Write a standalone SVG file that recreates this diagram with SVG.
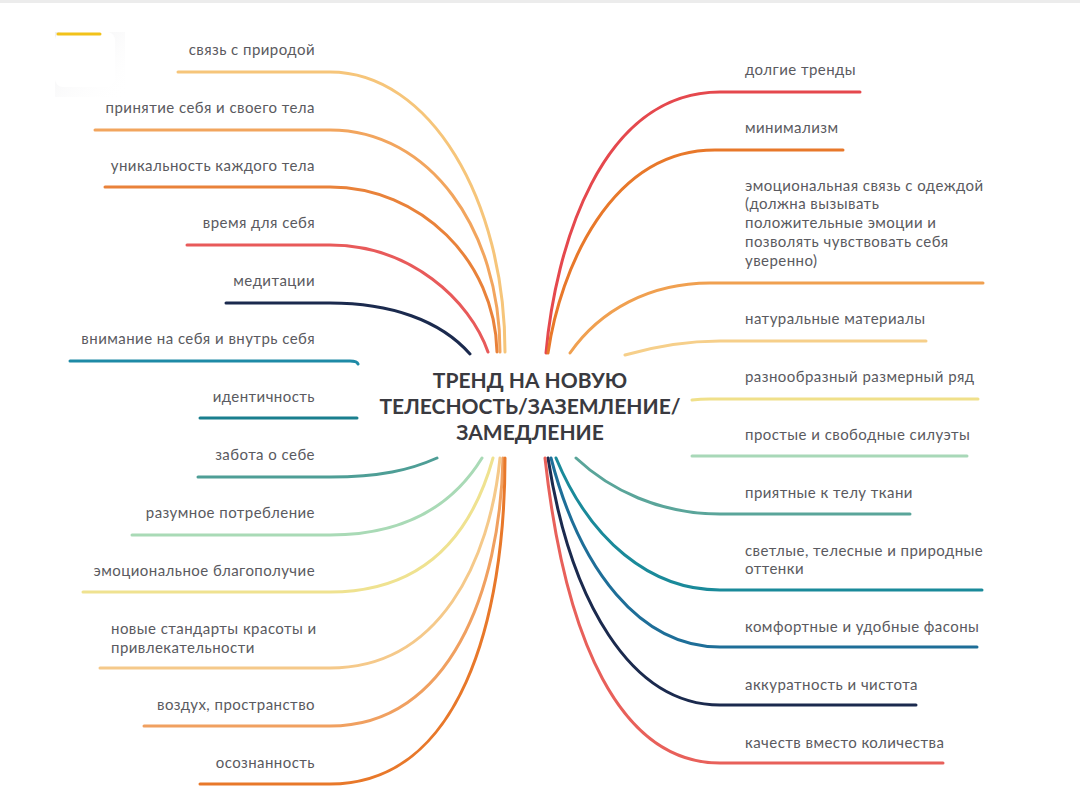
<svg xmlns="http://www.w3.org/2000/svg" width="1080" height="797" viewBox="0 0 1080 797">
<defs>
<style>
.t{font-family:Lato,"Open Sans",sans-serif;font-size:15px;letter-spacing:0.45px;fill:#5a5a60}
.l{text-anchor:end}
.c{font-family:Lato,"Open Sans",sans-serif;font-size:21px;font-weight:bold;fill:#3a3a40;text-anchor:middle}
path{fill:none;stroke-width:3;stroke-linecap:round}
</style>
<linearGradient id="sh" x1="0" y1="0" x2="1" y2="1"><stop offset="0" stop-color="#eeeef0"/><stop offset="1" stop-color="#fff" stop-opacity="0"/></linearGradient>
</defs>
<rect width="1080" height="797" fill="#fff"/>
<rect width="1080" height="3" fill="#ececec"/>
<rect x="55" y="32" width="70" height="65" fill="url(#sh)"/>
<rect x="55" y="32" width="60" height="55" rx="8" fill="#fff"/>
<path d="M58 34H100" stroke="#f2c21a" stroke-width="4"/>
<g id="connectors">
<path d="M178 72H330C430 72 505 200 505 352" stroke="#f6c57a"/>
<path d="M95 130H330C430 130 500 230 500 352" stroke="#f2a55e"/>
<path d="M105 187H330C420 187 495 260 497 352" stroke="#e9823a"/>
<path d="M187 245H330C410 245 470 300 488 352" stroke="#e85a5a"/>
<path d="M226 303H330C390 303 440 320 470 354" stroke="#1b2a4e"/>
<path d="M70 361H350Q357 361 358 364" stroke="#1e8aa6"/>
<path d="M200 418H357" stroke="#1a7f8e"/>
<path d="M198 477H330C380 477 410 470 437 458" stroke="#4e9e96"/>
<path d="M132 535H330C400 535 450 510 482 458" stroke="#a9dab6"/>
<path d="M83 592H330C420 592 470 540 493 458" stroke="#efe290"/>
<path d="M100 668H330C440 668 490 560 500 458" stroke="#f5c98a"/>
<path d="M144 726H330C450 726 500 590 503 458" stroke="#f0a060"/>
<path d="M200 784H330C460 784 505 620 505 458" stroke="#e8782a"/>
<path d="M546 353C555 250 600 92 720 92H860" stroke="#e5484d"/>
<path d="M548 353C560 270 610 150 715 150H843" stroke="#e8782a"/>
<path d="M570 353C600 310 650 283 710 283H983" stroke="#f0a050"/>
<path d="M625 355C660 345 690 341 720 341H926" stroke="#f6cf8a"/>
<path d="M692 400Q700 399 710 399H978" stroke="#f0e08a"/>
<path d="M692 456H967" stroke="#a8d8b8"/>
<path d="M576 458C610 490 660 514 720 514H910" stroke="#5aa59a"/>
<path d="M556 458C590 540 650 590 720 590H982" stroke="#1a8a9a"/>
<path d="M551 458C580 570 640 647 720 647H977" stroke="#1e6e98"/>
<path d="M548 458C570 600 630 705 720 705H916" stroke="#1b2a4e"/>
<path d="M545 458C565 640 620 763 720 763H943" stroke="#e8605a"/>
</g>
<g id="center"><text class="c" x="530" y="388">ТРЕНД НА НОВУЮ</text><text class="c" x="530" y="414">ТЕЛЕСНОСТЬ/ЗАЗЕМЛЕНИЕ/</text><text class="c" x="530" y="440">ЗАМЕДЛЕНИЕ</text></g>
<g id="left">
<text class="t l" x="315" y="55">связь с природой</text>
<text class="t l" x="315" y="113">принятие себя и своего тела</text>
<text class="t l" x="315" y="171">уникальность каждого тела</text>
<text class="t l" x="315" y="228">время для себя</text>
<text class="t l" x="315" y="286">медитации</text>
<text class="t l" x="315" y="344">внимание на себя и внутрь себя</text>
<text class="t l" x="315" y="402">идентичность</text>
<text class="t l" x="315" y="460">забота о себе</text>
<text class="t l" x="315" y="518">разумное потребление</text>
<text class="t l" x="315" y="576">эмоциональное благополучие</text>
<text class="t" x="111" y="634">новые стандарты красоты и</text>
<text class="t" x="111" y="653">привлекательности</text>
<text class="t l" x="315" y="710">воздух, пространство</text>
<text class="t l" x="315" y="768">осознанность</text>
</g>
<g id="right">
<text class="t" x="745" y="75">долгие тренды</text>
<text class="t" x="745" y="133">минимализм</text>
<text class="t" x="745" y="191">эмоциональная связь с одеждой</text>
<text class="t" x="745" y="209">(должна вызывать</text>
<text class="t" x="745" y="228">положительные эмоции и</text>
<text class="t" x="745" y="247">позволять чувствовать себя</text>
<text class="t" x="745" y="266">уверенно)</text>
<text class="t" x="745" y="324">натуральные материалы</text>
<text class="t" x="745" y="382">разнообразный размерный ряд</text>
<text class="t" x="745" y="440">простые и свободные силуэты</text>
<text class="t" x="745" y="498">приятные к телу ткани</text>
<text class="t" x="745" y="556">светлые, телесные и природные</text>
<text class="t" x="745" y="574">оттенки</text>
<text class="t" x="745" y="632">комфортные и удобные фасоны</text>
<text class="t" x="745" y="690">аккуратность и чистота</text>
<text class="t" x="745" y="748">качеств вместо количества</text>
</g>
</svg>
